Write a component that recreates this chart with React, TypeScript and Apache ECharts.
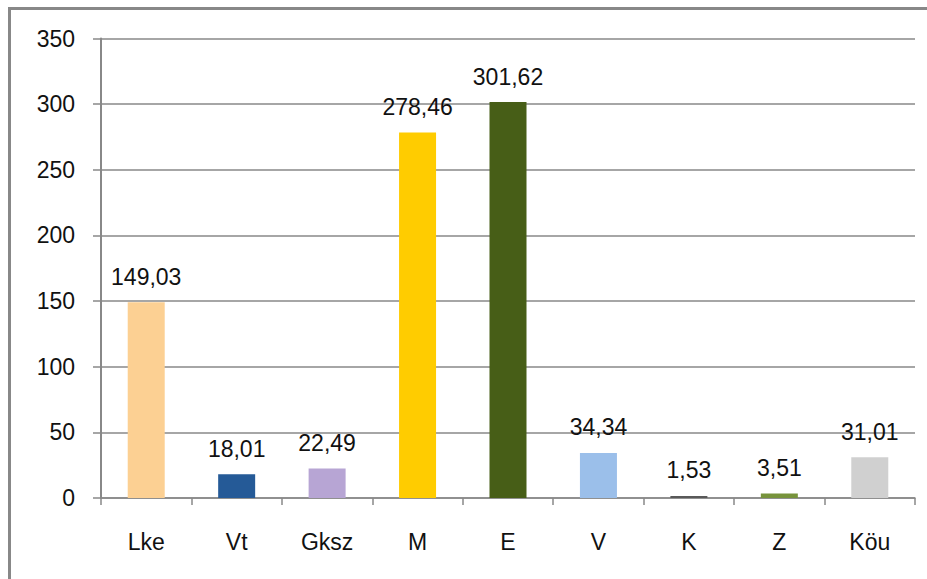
import React, { useEffect, useRef } from "react";
import * as echarts from "echarts";

const categories = ["Lke", "Vt", "Gksz", "M", "E", "V", "K", "Z", "Köu"];
const values = [149.03, 18.01, 22.49, 278.46, 301.62, 34.34, 1.53, 3.51, 31.01];
const barColors = ["#FCD093", "#255A97", "#B7A5D4", "#FFCC00", "#475E17", "#9BBFEA", "#595959", "#77933C", "#D0D0D0"];
const yTicks = { min: 0, max: 350, interval: 50 };

const FONT = "Liberation Sans";

export default function App() {
  const ref = useRef<HTMLDivElement>(null);
  useEffect(() => {
    document.body.style.margin = "0";
    const chart = echarts.init(ref.current!, null, { renderer: "svg" });
    chart.setOption({
      animation: false,
      backgroundColor: "#ffffff",
      grid: { left: 101, right: 12, top: 38.5, bottom: 81, containLabel: false },
      xAxis: {
        type: "category",
        data: categories,
        boundaryGap: true,
        axisLine: { lineStyle: { color: "#888888", width: 1.5 } },
        axisTick: { show: true, alignWithLabel: false, length: 7, lineStyle: { color: "#888888", width: 1.5 } },
        axisLabel: { color: "#111111", fontFamily: FONT, fontSize: 23, margin: 32 },
      },
      yAxis: {
        type: "value",
        min: yTicks.min,
        max: yTicks.max,
        interval: yTicks.interval,
        axisLine: { show: true, lineStyle: { color: "#888888", width: 2 } },
        axisTick: { show: true, length: 8, lineStyle: { color: "#888888", width: 1.5 } },
        axisLabel: { color: "#111111", fontFamily: FONT, fontSize: 23, margin: 26 },
        splitLine: { show: true, lineStyle: { color: "#888888", width: 1.5 } },
      },
      series: [
        {
          type: "bar",
          barWidth: 37,
          data: values.map((v, i) => ({ value: v, itemStyle: { color: barColors[i] } })),
          label: {
            show: true,
            position: "top",
            distance: 14,
            color: "#111111",
            fontFamily: FONT,
            fontSize: 23,
            formatter: (p: any) => Number(p.value).toFixed(2).replace(".", ","),
          },
        },
      ],
      graphic: [
        {
          type: "rect",
          shape: { x: 9.5, y: 8.5, width: 1000, height: 1000 },
          style: { fill: "none", stroke: "#888888", lineWidth: 3 },
          silent: true,
        },
      ],
    });
    return () => chart.dispose();
  }, []);
  return <div ref={ref} style={{ width: 927, height: 579 }} />;
}
